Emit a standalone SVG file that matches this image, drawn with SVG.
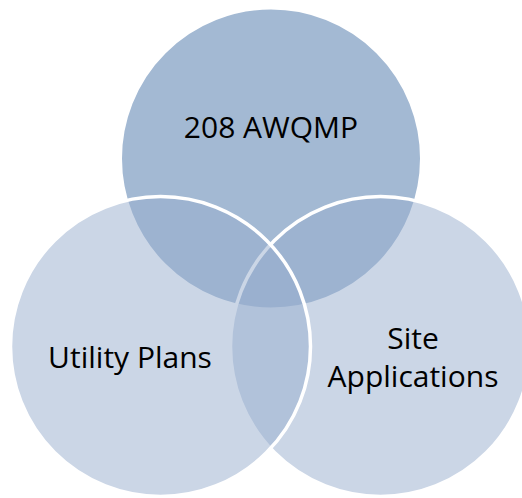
<svg xmlns="http://www.w3.org/2000/svg" width="522" height="498" viewBox="0 0 522 498">
  <style>
    .ring { stroke: #ffffff; stroke-width: 3.5; }
    .top { fill: #a3b9d3; }
    .side { fill: #97adcd; fill-opacity: 0.5; }
    .label { font-family: "Open Sans", "Liberation Sans", sans-serif; font-size: 30px; fill: #000000; text-anchor: middle; }
  </style>
  <rect width="522" height="498" fill="#ffffff"/>
  <!-- Venn circles: top drawn first, then right, then left on top -->
  <g id="node-awqmp">
    <circle class="ring top" cx="271" cy="158.5" r="150.75"/>
  </g>
  <g id="node-site-applications">
    <circle class="ring side" cx="380.5" cy="346.5" r="150"/>
  </g>
  <g id="node-utility-plans">
    <circle class="ring side" cx="160.5" cy="346.5" r="150"/>
  </g>
  <g id="connectors"/>
  <!-- Labels -->
  <g id="labels">
    <text class="label" x="271" y="138">208 AWQMP</text>
    <text class="label" x="130" y="368">Utility Plans</text>
    <text class="label" x="413" y="349">Site</text>
    <text class="label" x="413" y="387">Applications</text>
  </g>
</svg>
